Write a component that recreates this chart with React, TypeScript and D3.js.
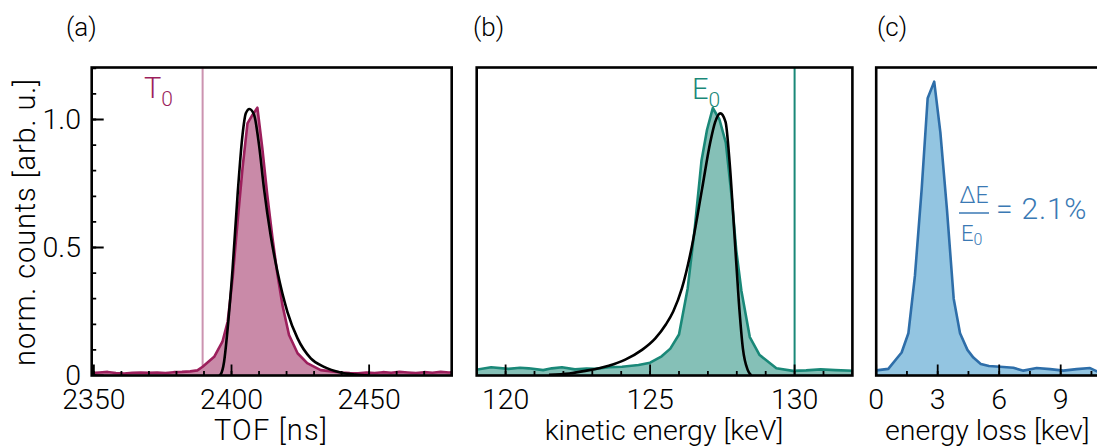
import React from "react";
import * as d3 from "d3";

// ---------- data ----------
// (a) time of flight histogram
const tofNs = [2349, 2352, 2355, 2358, 2361, 2364, 2367, 2370, 2373, 2376, 2379, 2382, 2385, 2387.6,
  2389.5, 2393.7, 2396.7, 2398.6, 2400.4, 2402.2, 2404, 2405.8, 2407.6, 2409.4, 2411.2, 2413, 2414.9,
  2416.7, 2418.5, 2420.9, 2424, 2427.5, 2432.4, 2437.2, 2440, 2443, 2446, 2449, 2452, 2455, 2458, 2461,
  2464, 2467, 2470, 2473, 2476, 2479, 2481];
const tofCounts = [0.010, 0.012, 0.014, 0.010, 0.008, 0.011, 0.012, 0.011, 0.012, 0.010, 0.013, 0.014, 0.016, 0.020,
  0.034, 0.073, 0.132, 0.21, 0.38, 0.60, 0.81, 0.985, 1.018, 1.046, 0.887, 0.705, 0.536,
  0.393, 0.275, 0.158, 0.087, 0.048, 0.021, 0.015, 0.012, 0.010, 0.009, 0.012, 0.010, 0.013, 0.011, 0.014,
  0.012, 0.010, 0.013, 0.011, 0.014, 0.012, 0.013];
const tofFitNs = [2395.5, 2396.1, 2397.3, 2398.6, 2400.4, 2402.2, 2404, 2405.2, 2406.5, 2408.2, 2410, 2411.8,
  2414.2, 2416.7, 2420.3, 2424, 2428.8, 2433.6, 2439.6, 2445, 2450];
const tofFitCounts = [0, 0.005, 0.054, 0.184, 0.419, 0.705, 0.94, 1.024, 1.041, 1.018, 0.90, 0.73,
  0.549, 0.405, 0.249, 0.145, 0.067, 0.034, 0.012, 0.004, 0];
const tofT0 = 2389.5;
const tofTicks = [2350, 2400, 2450];
const tofMinor = d3.range(2350, 2481, 10);

// (b) kinetic energy
const keKeV = [118.9, 119.5, 120.1, 120.5, 120.8, 121.3, 121.6, 121.95, 122.4, 122.8, 123.1, 123.57, 124.03,
  124.6, 125.0, 125.4, 125.7, 126.0, 126.3, 126.55, 126.78, 126.97, 127.17, 127.4, 127.62, 127.82, 127.98,
  128.16, 128.45, 128.79, 129.37, 129.94, 130.4, 130.9, 131.4, 132.1];
const keCounts = [0.021, 0.032, 0.026, 0.030, 0.028, 0.021, 0.028, 0.032, 0.024, 0.027, 0.026, 0.032, 0.034,
  0.041, 0.05, 0.075, 0.105, 0.16, 0.34, 0.58, 0.84, 0.96, 1.045, 1.0, 0.91, 0.70, 0.49,
  0.33, 0.15, 0.08, 0.028, 0.018, 0.020, 0.024, 0.021, 0.018];
const keFitKeV = [121.5, 122.2, 122.76, 123.57, 124.14, 124.72, 125.18, 125.55, 125.8, 126.1, 126.42, 126.8,
  127.08, 127.25, 127.43, 127.61, 127.75, 127.92, 128.07, 128.21, 128.38, 128.5];
const keFitCounts = [0.003, 0.008, 0.018, 0.038, 0.062, 0.1, 0.145, 0.2, 0.25, 0.34, 0.49, 0.73,
  0.91, 0.99, 1.024, 0.991, 0.835, 0.549, 0.288, 0.106, 0.021, 0];
const keE0 = 130;
const keTicks = [120, 125, 130];
const keMinor = d3.range(119, 133, 1);

// (c) energy loss
const elKeV = [0, 0.1, 0.59, 1.24, 1.57, 1.89, 2.22, 2.51, 2.83, 3.13, 3.45, 3.78, 4.09, 4.45, 4.74, 5.1,
  5.5, 6.04, 6.69, 7.18, 7.83, 8.48, 9.13, 9.78, 10.43, 10.77, 11.3, 12];
const elCounts = [0.02, 0.021, 0.026, 0.09, 0.165, 0.39, 0.73, 1.083, 1.148, 0.95, 0.65, 0.30, 0.165, 0.10, 0.07, 0.045,
  0.037, 0.034, 0.030, 0.019, 0.029, 0.025, 0.019, 0.025, 0.029, 0.016, 0.02, 0.02];
const elTicks = [0, 3, 6, 9];
const elMinor = d3.range(0, 12.1, 1.5);

const yTicks = [0, 0.5, 1.0];
const yTickLabels = ["0", "0.5", "1.0"];
const yMinor = d3.range(0, 1.21, 0.1);

// ---------- styles ----------
const FONT = "Roboto, 'Liberation Sans', Arial, sans-serif";
const MAG = "#9c1f5c";
const MAG_FILL = "#c98aa8";
const MAG_LINE = "#cc93b0";
const TEAL = "#1a8878";
const TEAL_FILL = "#85c0b7";
const BLUE = "#2e6ea9";
const BLUE_FILL = "#93c5e1";
const BLUE_TEXT = "#3a79b4";

const W = 1097;
const H = 448;
const yScale = d3.scaleLinear().domain([0, 1.2]).range([375.5, 68.3]);
const TOP = 67.5;
const BOT = 375.5;

type PanelProps = {
  id: string;
  x: d3.ScaleLinear<number, number>;
  xs: number[];
  ys: number[];
  stroke: string;
  fill: string;
  fitX?: number[];
  fitY?: number[];
  ticks: number[];
  minor: number[];
  yAxis?: boolean;
  children?: React.ReactNode;
};

function Panel({ id, x, xs, ys, stroke, fill, fitX, fitY, ticks, minor, yAxis, children }: PanelProps) {
  const [x0, x1] = x.range();
  const pts: [number, number][] = xs.map((v, i) => [v, ys[i]]);
  const area = d3.area<[number, number]>().x((d) => x(d[0])).y0(yScale(0)).y1((d) => yScale(d[1]));
  const line = d3.line<[number, number]>().x((d) => x(d[0])).y((d) => yScale(d[1]));
  const fitPts: [number, number][] = fitX && fitY ? fitX.map((v, i) => [v, fitY[i]]) : [];
  const fitLine = d3.line<[number, number]>().x((d) => x(d[0])).y((d) => yScale(d[1])).curve(d3.curveMonotoneX);
  return (
    <g>
      <defs>
        <clipPath id={"clip-" + id}>
          <rect x={x0} y={TOP} width={x1 - x0} height={BOT - TOP} />
        </clipPath>
      </defs>
      <g clipPath={`url(#clip-${id})`}>
        {children}
        <path d={area(pts) || ""} fill={fill} stroke="none" />
        <path d={line(pts) || ""} fill="none" stroke={stroke} strokeWidth={2.6} strokeLinejoin="round" />
        {fitPts.length > 0 && (
          <path d={fitLine(fitPts) || ""} fill="none" stroke="#000" strokeWidth={2.6} />
        )}
        {minor.map((t) => (
          <line key={"m" + t} x1={x(t)} x2={x(t)} y1={BOT} y2={BOT - 4.5} stroke="#000" strokeWidth={1.8} />
        ))}
        {ticks.map((t) => (
          <line key={"M" + t} x1={x(t)} x2={x(t)} y1={BOT} y2={BOT - 11} stroke="#000" strokeWidth={1.8} />
        ))}
        {yAxis &&
          yMinor.map((t) => (
            <line key={"ym" + t} x1={x0} x2={x0 + 4.5} y1={yScale(t)} y2={yScale(t)} stroke="#000" strokeWidth={1.8} />
          ))}
        {yAxis &&
          yTicks.map((t) => (
            <line key={"yM" + t} x1={x0} x2={x0 + 12} y1={yScale(t)} y2={yScale(t)} stroke="#000" strokeWidth={1.8} />
          ))}
      </g>
      <rect x={x0} y={TOP} width={x1 - x0} height={BOT - TOP} fill="none" stroke="#000" strokeWidth={2.6} />
      {ticks.map((t) => (
        <text key={"l" + t} x={x(t)} y={409} textAnchor="middle" fontSize={28.5} fontFamily={FONT} fontWeight={300} fill="#000">
          {t}
        </text>
      ))}
    </g>
  );
}

export default function App() {
  const xa = d3.scaleLinear().domain([2349.2, 2480]).range([91.7, 451.7]);
  const xb = d3.scaleLinear().domain([119, 132]).range([476.7, 852.4]);
  const xc = d3.scaleLinear().domain([0, 12]).range([876.2, 1122.2]);
  return (
    <svg width={W} height={H} style={{ position: "absolute", left: 0, top: 0, background: "#fff" }}>
      <rect x={0} y={0} width={W} height={H} fill="#fff" />
      {/* panel labels */}
      <text x={66} y={36} fontSize={26} fontFamily={FONT} fontWeight={300}>(a)</text>
      <text x={473} y={36} fontSize={26} fontFamily={FONT} fontWeight={300}>(b)</text>
      <text x={877} y={36} fontSize={26} fontFamily={FONT} fontWeight={300}>(c)</text>

      {/* y axis label */}
      <text transform="translate(35,222) rotate(-90)" textAnchor="middle" fontSize={29} letterSpacing={0.9} fontFamily={FONT} fontWeight={300}>
        norm. counts [arb. u.]
      </text>
      {yTicks.map((t, i) => (
        <text key={t} x={81} y={yScale(t) + 9} textAnchor="end" fontSize={28.5} fontFamily={FONT} fontWeight={300}>
          {yTickLabels[i]}
        </text>
      ))}

      <Panel id="a" x={xa} xs={tofNs} ys={tofCounts} stroke={MAG} fill={MAG_FILL} fitX={tofFitNs} fitY={tofFitCounts}
        ticks={tofTicks} minor={tofMinor} yAxis>
        <line x1={xa(tofT0)} x2={xa(tofT0)} y1={TOP} y2={BOT} stroke={MAG_LINE} strokeWidth={2} />
      </Panel>
      <Panel id="b" x={xb} xs={keKeV} ys={keCounts} stroke={TEAL} fill={TEAL_FILL} fitX={keFitKeV} fitY={keFitCounts}
        ticks={keTicks} minor={keMinor}>
        <line x1={xb(keE0)} x2={xb(keE0)} y1={TOP} y2={BOT} stroke={TEAL} strokeWidth={2} />
      </Panel>
      <Panel id="c" x={xc} xs={elKeV} ys={elCounts} stroke={BLUE} fill={BLUE_FILL} ticks={elTicks} minor={elMinor} />

      {/* annotations */}
      <text x={144} y={98} fontSize={29} fontFamily={FONT} fontWeight={300} fill={MAG}>
        T<tspan fontSize={21} dy={8}>0</tspan>
      </text>
      <text x={692} y={99} fontSize={29} fontFamily={FONT} fontWeight={300} fill={TEAL}>
        E<tspan fontSize={21} dy={8}>0</tspan>
      </text>
      <text x={974} y={203} textAnchor="middle" fontSize={23} fontFamily={FONT} fontWeight={300} fill={BLUE_TEXT}>
        ΔE
      </text>
      <line x1={959} x2={989} y1={213} y2={213} stroke={BLUE_TEXT} strokeWidth={1.5} />
      <text x={961} y={241} fontSize={22} fontFamily={FONT} fontWeight={300} fill={BLUE_TEXT}>
        E<tspan fontSize={16} dy={4}>0</tspan>
      </text>
      <text x={996} y={219} fontSize={30} letterSpacing={0.8} fontFamily={FONT} fontWeight={300} fill={BLUE_TEXT}>
        = 2.1%
      </text>

      {/* x axis titles */}
      <text x={271} y={440} textAnchor="middle" fontSize={29} letterSpacing={1.2} fontFamily={FONT} fontWeight={300}>TOF [ns]</text>
      <text x={664} y={440} textAnchor="middle" fontSize={28.5} fontFamily={FONT} fontWeight={300}>kinetic energy [keV]</text>
      <text x={885} y={440} textAnchor="start" fontSize={28.5} fontFamily={FONT} fontWeight={300}>energy loss [kev]</text>
    </svg>
  );
}
